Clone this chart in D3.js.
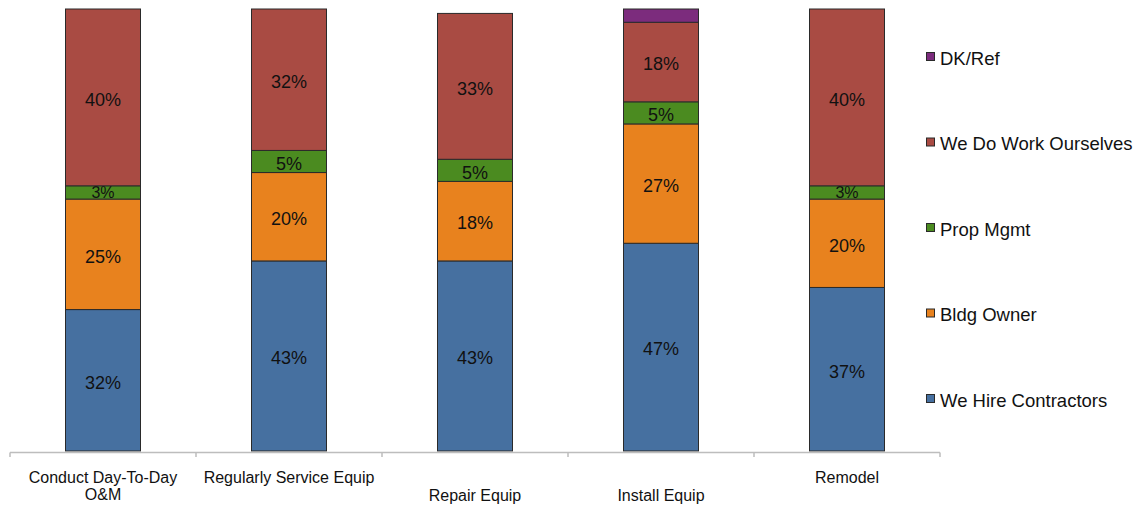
<!DOCTYPE html>
<html>
<head>
<meta charset="utf-8">
<script src="https://cdn.jsdelivr.net/npm/d3@7"></script>
<style>
  html, body { margin: 0; padding: 0; background: #fff; }
  svg { display: block; font-family: "Liberation Sans", Arial, Helvetica, sans-serif; }
</style>
</head>
<body>
<svg id="chart" width="1138" height="506"></svg>
<script>
// Categories (x axis) and the lines each label is broken into
const categories = ["Conduct Day-To-Day O&M", "Regularly Service Equip", "Repair Equip", "Install Equip", "Remodel"];
const categoryLines = [["Conduct Day-To-Day", "O&M"], ["Regularly Service Equip"], ["Repair Equip"], ["Install Equip"], ["Remodel"]];

// Series, stacked bottom to top (percent)
const seriesNames = ["We Hire Contractors", "Bldg Owner", "Prop Mgmt", "We Do Work Ourselves", "DK/Ref"];
const hireContractors = [32, 43, 43, 47, 37];
const bldgOwner       = [25, 20, 18, 27, 20];
const propMgmt        = [3, 5, 5, 5, 3];
const doOurselves     = [40, 32, 33, 18, 40];
const dkRef           = [0, 0, 0, 3, 0];

const colors = ["#4670A0", "#E8821E", "#4B8B20", "#A94B43", "#7C2C7D"];

// Layout
const width = 1138, height = 506;
const plot = { left: 10, right: 940, top: 9, bottom: 451 };
const labelRowOffset = [0, 0, 18, 18, 0]; // category labels sit on two staggered rows

const seriesValues = [hireContractors, bldgOwner, propMgmt, doOurselves, dkRef];
const rows = categories.map((c, i) => {
  const r = { category: c };
  seriesNames.forEach((s, k) => { r[s] = seriesValues[k][i]; });
  return r;
});

const stacked = d3.stack().keys(seriesNames)(rows);

const x = d3.scaleBand().domain(categories).range([plot.left, plot.right]).paddingInner(0).paddingOuter(0);
const barWidth = 75;
const y = d3.scaleLinear().domain([0, 100]).range([plot.bottom, plot.top]);

const svg = d3.select("#chart");

// Bars
const layers = svg.append("g").selectAll("g")
  .data(stacked)
  .join("g")
  .attr("fill", (d, i) => colors[i]);

layers.selectAll("rect")
  .data(d => d.map(p => ({ p, key: d.key })))
  .join("rect")
  .filter(d => d.p[1] - d.p[0] > 0)
  .attr("x", d => x(d.p.data.category) + x.bandwidth() / 2 - barWidth / 2)
  .attr("y", d => y(d.p[1]))
  .attr("width", barWidth)
  .attr("height", d => y(d.p[0]) - y(d.p[1]))
  .attr("stroke", "#2a2a2a")
  .attr("stroke-width", 1);

// Value labels
layers.selectAll("text")
  .data(d => d.map(p => ({ p, key: d.key })).filter(d => d.key !== "DK/Ref" && d.p[1] - d.p[0] > 0))
  .join("text")
  .attr("x", d => x(d.p.data.category) + x.bandwidth() / 2)
  .attr("y", d => (y(d.p[0]) + y(d.p[1])) / 2)
  .attr("dy", d => (d.p[1] - d.p[0]) <= 3 ? "0.36em" : "0.46em")
  .attr("text-anchor", "middle")
  .attr("fill", "#111")
  .attr("font-size", d => (d.p[1] - d.p[0]) <= 3 ? 16 : 18)
  .text(d => (d.p[1] - d.p[0]) + "%");

// X axis line with ticks between categories
const axisG = svg.append("g");
const boundaries = categories.map(c => x(c)).concat([x(categories[categories.length - 1]) + x.bandwidth()]);
axisG.append("line")
  .attr("x1", plot.left).attr("x2", plot.right)
  .attr("y1", plot.bottom + 1.5).attr("y2", plot.bottom + 1.5)
  .attr("stroke", "#bdbdbd").attr("stroke-width", 1.5);
axisG.selectAll("line.tick")
  .data(boundaries)
  .join("line")
  .attr("class", "tick")
  .attr("x1", d => d).attr("x2", d => d)
  .attr("y1", plot.bottom + 1.5).attr("y2", plot.bottom + 6)
  .attr("stroke", "#bdbdbd").attr("stroke-width", 1.5);

// Category labels
const catLabels = axisG.selectAll("text.cat")
  .data(categories)
  .join("text")
  .attr("class", "cat")
  .attr("text-anchor", "middle")
  .attr("font-size", 16)
  .attr("fill", "#111")
  .attr("x", c => x(c) + x.bandwidth() / 2)
  .attr("y", (c, i) => 483 + labelRowOffset[i]);
catLabels.selectAll("tspan")
  .data((c, i) => categoryLines[i].map((t, j) => ({ t, j, xc: x(c) + x.bandwidth() / 2 })))
  .join("tspan")
  .attr("x", d => d.xc)
  .attr("dy", d => d.j === 0 ? 0 : 16.5)
  .text(d => d.t);

// Legend, top entry is the top of the stack
const legendOrder = seriesNames.map((s, i) => ({ s, c: colors[i] })).reverse();
const legendY = d3.scalePoint().domain(legendOrder.map(d => d.s)).range([59, 401]);
const legend = svg.append("g").selectAll("g")
  .data(legendOrder)
  .join("g")
  .attr("transform", d => `translate(926, ${legendY(d.s)})`);
legend.append("rect")
  .attr("x", 0.5).attr("y", -6.5)
  .attr("width", 8).attr("height", 8)
  .attr("fill", d => d.c)
  .attr("stroke", "#2a2a2a").attr("stroke-width", 1);
legend.append("text")
  .attr("x", 14).attr("y", 0)
  .attr("dy", "0.3em")
  .attr("font-size", 18.5)
  .attr("fill", "#111")
  .text(d => d.s);
</script>
</body>
</html>
